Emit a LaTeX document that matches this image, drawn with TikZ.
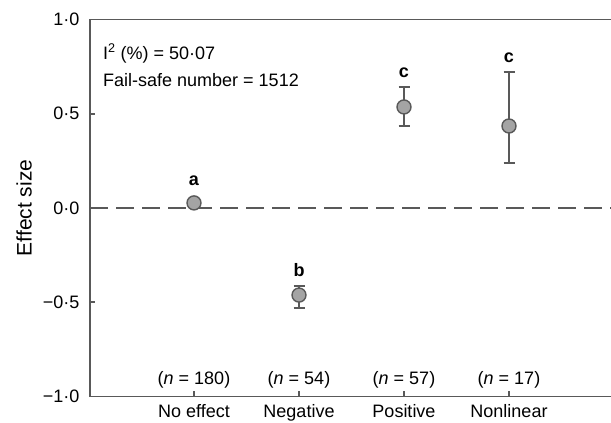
\documentclass[tikz,border=0pt]{standalone}
\usepackage{fontspec}
\setmainfont{Liberation Sans}
\usetikzlibrary{positioning}
\definecolor{axisgray}{HTML}{595959}
\definecolor{dotgray}{HTML}{A4A4A4}
\begin{document}
\begin{tikzpicture}[x=1pt,y=188.5pt,
    font=\fontsize{18}{21}\selectfont,
    axis/.style={axisgray, line width=1.8pt},
    errbar/.style={axisgray, line width=1.6pt},
    effdot/.style={circle, draw=axisgray, fill=dotgray, line width=1.4pt,
      minimum size=14pt, inner sep=0pt},
    grp/.style={font=\fontsize{18}{21}\selectfont\bfseries, inner sep=0pt}]
  \useasboundingbox (-90,-1.1406) rectangle (521,1.1034);

  % Draw the frame
  \draw[axis] (521,1) -- (0,1) -- (0,-1) -- (521,-1);
  % Zero line
  \draw[axisgray, line width=1.3pt, dash pattern=on 18pt off 8pt] (0,0) -- (521,0);
  % Ticks on the y-axis
  \foreach \y/\lab [count=\i] in {1/1·0, 0.5/0·5, 0/0·0, -0.5/−0·5, -1/−1·0} {
    \draw[axis] (0,\y) -- ++(5pt,0);
    \node[anchor=east] (ylab\i) at (-7,\y) {\lab};
  }
  \node[rotate=90, font=\fontsize{21}{24}\selectfont] (ylabel) at (-66,0) {Effect size};
  % Ticks on the x-axis
  \foreach \x/\name/\n [count=\i] in {104/No effect/180, 209/Negative/54,
      314/Positive/57, 419/Nonlinear/17} {
    \draw[axis] (\x,-1) -- ++(0,5pt);
    \node[anchor=base] (n\i) at (\x,-0.934) {(\textit{n} = \n)};
    \node[anchor=base] (cat\i) at (\x,-1.109) {\name};
  }

  % Heterogeneity
  \node[anchor=base west, inner sep=0pt] (het) at (13,0.790) {I\textsuperscript{2} (\%) = 50·07};
  \node[anchor=base west, inner sep=0pt] (failsafe) at (13,0.642) {Fail-safe number = 1512};

  % No effect
  \node[effdot] (noeff) at (104,0.027) {};
  \node[grp, above=9pt of noeff] (noeff-grp) {a};
  % Other groups with error bars
  \foreach \x/\m/\lo/\hi/\nm/\grp in {209/-0.462/-0.53/-0.414/neg/b,
      314/0.536/0.435/0.642/pos/c, 419/0.435/0.239/0.722/nonlin/c} {
    \coordinate (\nm-top) at (\x,\hi);
    \coordinate (\nm-bot) at (\x,\lo);
    \draw[errbar] (\nm-bot) -- (\nm-top);
    \draw[errbar] ([xshift=-5.5pt]\nm-top) -- ([xshift=5.5pt]\nm-top);
    \draw[errbar] ([xshift=-5.5pt]\nm-bot) -- ([xshift=5.5pt]\nm-bot);
    \node[effdot] (\nm) at (\x,\m) {};
    \node[grp, above=9pt of \nm-top] (\nm-grp) {\grp};
  }
\end{tikzpicture}
\end{document}
